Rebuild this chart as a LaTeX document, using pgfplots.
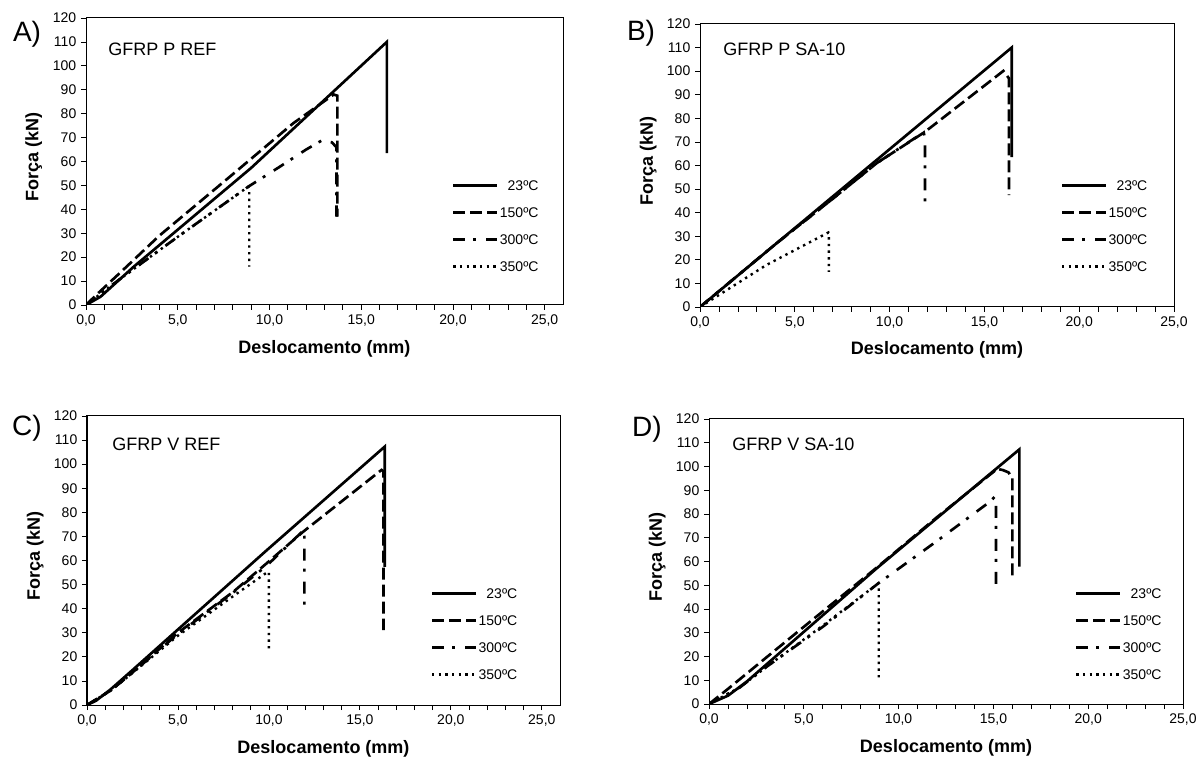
\documentclass[border=0pt]{standalone}
\usepackage{pgfplots}
\pgfplotsset{compat=1.18}
\usepackage{fontspec}
\setmainfont{Liberation Sans}

\pgfplotsset{
  s23/.style={black, line width=2pt, solid},
  s150/.style={black, line width=2pt, dash pattern=on 9pt off 3.75pt},
  s300/.style={black, line width=2pt, dash pattern=on 9pt off 6pt on 2.25pt off 7.5pt},
  s350/.style={black, line width=1.8pt, dash pattern=on 1.8pt off 3.2pt},
  panel/.style={
    scale only axis, xmin=0, ymin=0, ymax=120,
    xtick={0,5,...,25}, minor x tick num=4, ytick={0,10,...,120},
    tick align=outside, tick pos=left,
    major tick length=3.75pt, minor tick length=3.75pt,
    tick style={black, line width=0.6pt},
    axis line style={black, line width=0.75pt},
    x tick label style={font=\fontsize{10.5}{12}\selectfont, /pgf/number format/.cd, fixed, fixed zerofill, precision=1, use comma, assume math mode=true},
    y tick label style={font=\fontsize{10.5}{12}\selectfont, /pgf/number format/assume math mode=true},
    xlabel={Deslocamento (mm)}, ylabel={Força (kN)},
    xlabel style={at={(axis description cs:0.5,-0.153)}, anchor=center, font=\fontsize{13.5}{16}\selectfont\bfseries},
    ylabel style={at={(axis description cs:-0.1095,0.515)}, anchor=center, font=\fontsize{13.5}{16}\selectfont\bfseries},
    no marks,
    legend cell align=right,
    legend image code/.code={\draw[##1] (0pt,0pt) -- (33pt,0pt);},
    legend style={draw=none, fill=none, inner sep=0pt, anchor=north east,
      font=\fontsize{10.5}{12}\selectfont, row sep=10.75pt,
      nodes={inner sep=1pt, text height=7.5pt, text depth=0pt}},
  }
}

\begin{document}
\begin{tikzpicture}
\path[use as bounding box] (0,0) rectangle (898.5pt,570pt);

% ---------- A ----------
\begin{axis}[panel, at={(64.5pt,341.25pt)}, anchor=south west,
  width=357.75pt, height=215.25pt, xmax=26,
  legend style={at={(0.952,0.439)}}]
\addplot[s23] coordinates {(0,0) (0.8,3.5) (2.6,16) (9,57.3) (16.4,110) (16.4,63.5)};
\addplot[s150] coordinates {(0,0) (0.6,4.5) (2,14.5) (4.0,29) (7.85,53.7) (11.3,76) (13.5,88) (13.7,87.5) (13.7,37)};
\addplot[s300] coordinates {(0,0) (1.7,10) (5,28.5) (8.85,49.5) (10.5,57.5) (12,65) (12.9,69) (13.4,68) (13.65,66) (13.65,37)};
\addplot[s350] coordinates {(0,0) (1.7,10) (5,28.5) (8.85,49.5) (8.9,49) (8.9,16)};
\legend{23ºC,150ºC,300ºC,350ºC}
\end{axis}

% ---------- B ----------
\begin{axis}[panel, at={(525pt,339.75pt)}, anchor=south west,
  width=355.5pt, height=212.25pt, xmax=25,
  legend style={at={(0.947,0.452)}}]
\addplot[s23] coordinates {(0,0) (16.44,110) (16.44,63.5)};
\addplot[s150] coordinates {(0,0) (4,26.8) (6.86,45) (9.32,61) (11.87,74.3) (16.0,100.1) (16.3,96.9) (16.3,47.4)};
\addplot[s300] coordinates {(0,0) (4,26.8) (6.86,45) (9.32,61) (11.5,72.5) (11.8,74) (11.87,71) (11.87,41)};
\addplot[s350] coordinates {(0,0) (3.5,17.8) (6.77,31.6) (6.8,31) (6.8,14.9)};
\legend{23ºC,150ºC,300ºC,350ºC}
\end{axis}

% ---------- C ----------
\begin{axis}[panel, at={(65.25pt,41.25pt)}, anchor=south west,
  width=354.75pt, height=216.75pt, xmax=26,
  legend style={at={(0.913,0.408)}}]
\addplot[s23] coordinates {(0,0) (0.5,1.8) (1.3,6.5) (2.5,14.5) (9.87,64.2) (16.37,107.3) (16.37,57.4)};
\addplot[s150] coordinates {(0,0) (1.3,6) (2.5,13.5) (5,30) (8.04,47) (9.87,58.8) (11.89,72) (16.19,97.6) (16.3,97) (16.3,31.1)};
\addplot[s300] coordinates {(0,0) (1.3,6) (2.5,13.5) (5,29.5) (8,46.5) (9.9,58) (11.9,72.5) (11.95,70) (11.95,40.8)};
\addplot[s350] coordinates {(0,0) (1.3,6) (2.5,13.3) (5,28.8) (8,45) (9.96,55.4) (10,55) (10,22.8)};
\legend{23ºC,150ºC,300ºC,350ºC}
\end{axis}

% ---------- D ----------
\begin{axis}[panel, at={(531.75pt,42pt)}, anchor=south west,
  width=355.5pt, height=213.75pt, xmax=25,
  legend style={at={(0.958,0.411)}}]
\addplot[s23] coordinates {(0,0) (1,3.5) (2,9.5) (8.84,57.1) (16.37,107.2) (16.37,57.8)};
\addplot[s150] coordinates {(0,0) (0.93,5.9) (4.8,31.2) (8.84,57.4) (12,78.5) (15.2,99) (15.5,98.5) (15.8,97.5) (16.0,95) (16.0,52.2)};
\addplot[s300] coordinates {(0,0) (1.63,7) (3.04,15.7) (6,32.5) (8.93,50.8) (12,68.5) (14.82,85.2) (15.08,87.3) (15.14,86) (15.14,49.4)};
\addplot[s350] coordinates {(0,0) (1.63,7) (3.04,15.7) (6,33) (8.93,50.8) (8.95,50) (8.95,9.4)};
\legend{23ºC,150ºC,300ºC,350ºC}
\end{axis}

% titles and panel letters
\begin{scope}[every node/.style={inner sep=0pt}]
\node[anchor=west, font=\fontsize{13.5}{16}\selectfont] at (81pt,532.9pt) {GFRP P REF};
\node[anchor=west, font=\fontsize{13.5}{16}\selectfont] at (542.25pt,532.9pt) {GFRP P SA-10};
\node[anchor=west, font=\fontsize{13.5}{16}\selectfont] at (84pt,237pt) {GFRP V REF};
\node[anchor=west, font=\fontsize{13.5}{16}\selectfont] at (549pt,237pt) {GFRP V SA-10};
\node[font=\fontsize{21}{24}\selectfont] at (20.25pt,544.5pt) {A)};
\node[font=\fontsize{21}{24}\selectfont] at (480.75pt,545.25pt) {B)};
\node[font=\fontsize{21}{24}\selectfont] at (20.25pt,249pt) {C)};
\node[font=\fontsize{21}{24}\selectfont] at (485.25pt,248.25pt) {D)};
\end{scope}
\end{tikzpicture}
\end{document}
